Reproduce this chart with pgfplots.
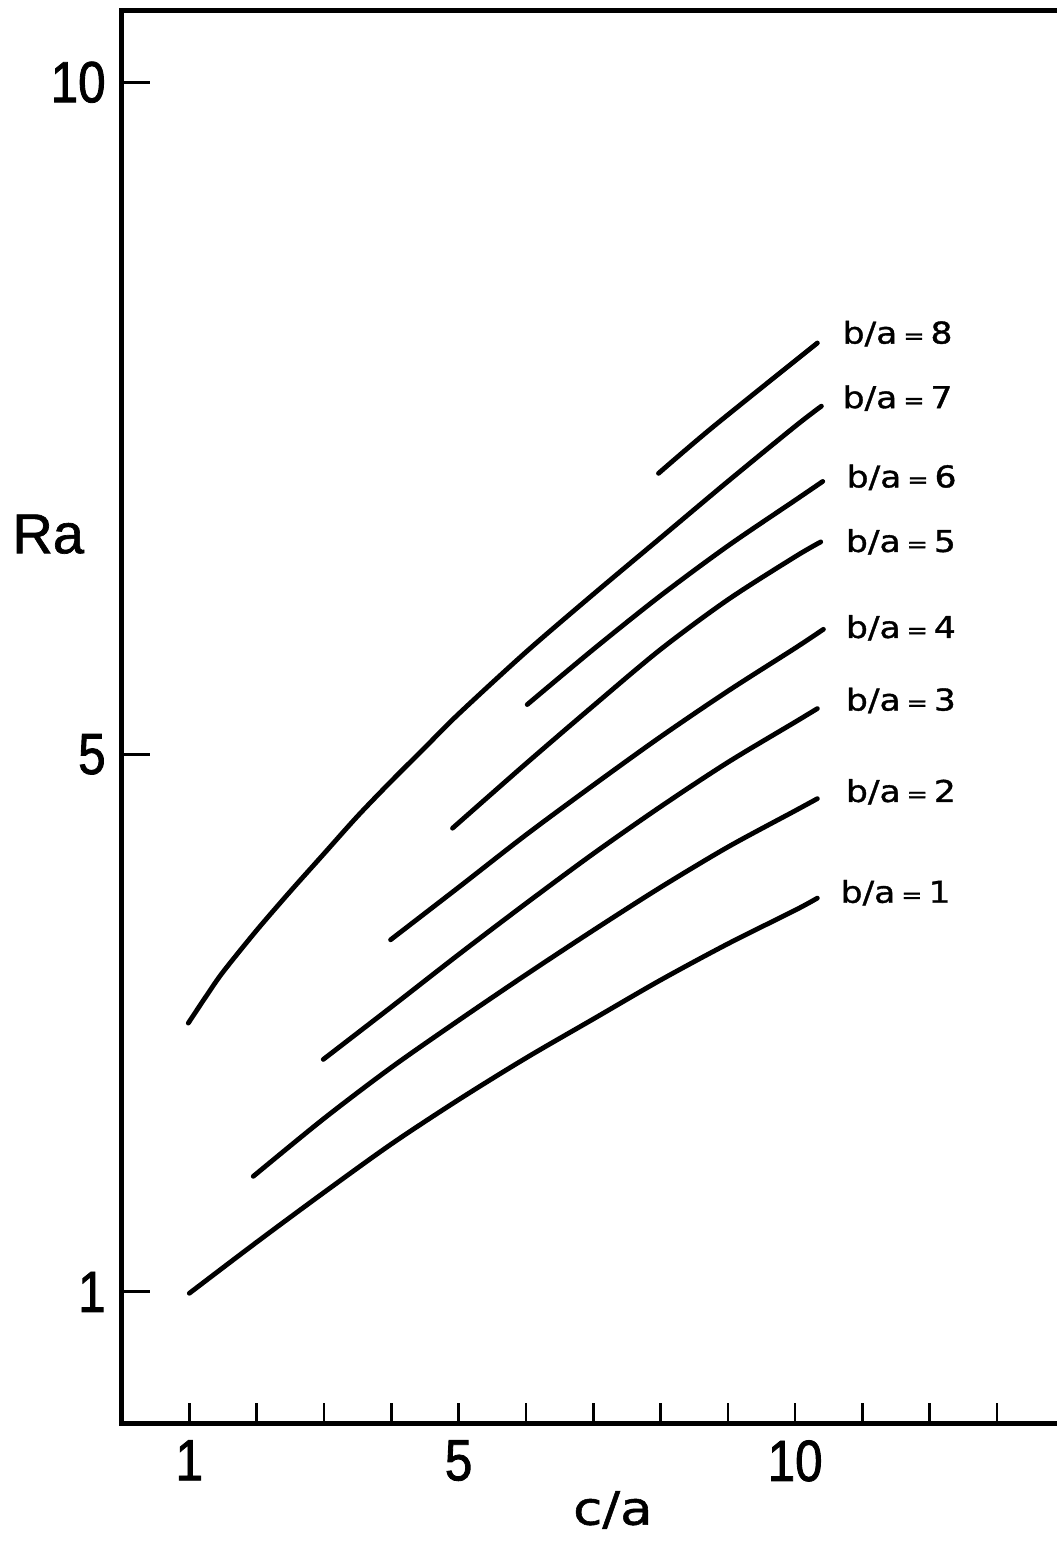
\documentclass[border=0pt]{standalone}
\usepackage{pgfplots}
\pgfplotsset{compat=1.18}
\usepackage{fontspec}
\setmainfont{Liberation Sans}
\newfontfamily\labelfont[FakeBold=1.2]{Liberation Sans}
\newfontfamily\tickfont[FakeStretch=0.85, FakeBold=1.5]{Liberation Sans}
\newfontfamily\curvefont[FakeStretch=1.15, FakeBold=1.2]{DejaVu Sans}
% curve label b/a = n
\newcommand\ba[1]{{\curvefont\fontsize{15}{18}\selectfont b/a\kern3pt{\fontsize{11}{12}\selectfont=}\kern3pt#1}}

\begin{document}
\begin{tikzpicture}
\begin{axis}[
  name=ax,
  scale only axis,
  width=467.5pt, height=706pt,
  xmin=0, xmax=13.89, ymin=0.025, ymax=10.53,
  axis x line*=bottom, axis y line*=left,
  axis line style={line width=2.5pt, line cap=rect},
  tick align=inside,
  xtick={1,...,13},
  xticklabels={1,,,,5,,,,,10,,,},
  ytick={1,5,10},
  major tick length=10pt,
  xtick style={line width=1.3pt, black},
  ytick style={line width=1.5pt, black, /pgfplots/major tick length=14pt},
  /pgf/number format/assume math mode=true,
  ticklabel style={font=\tickfont\fontsize{29}{30}\selectfont, inner sep=0pt},
  xticklabel style={yshift=-8.5pt},
  yticklabel style={xshift=-8pt},
  clip=false,
  cycle list={{black}},
  no markers,
  every axis plot post/.append style={line width=2.4pt, line cap=round, line join=round, smooth, tension=0.5, black},
]
% b/a = 1
\addplot coordinates {(1,0.99) (2,1.37) (3,1.74) (4,2.10) (5,2.43) (6,2.74) (7,3.03) (8,3.32) (9,3.59) (10,3.84) (10.33,3.93)};
% b/a = 2
\addplot coordinates {(1.95,1.86) (3,2.29) (4,2.67) (5,3.02) (6,3.36) (7,3.69) (8,4.01) (9,4.31) (10,4.58) (10.33,4.67)};
% b/a = 3
\addplot coordinates {(2.99,2.73) (4,3.12) (5,3.51) (6,3.89) (7,4.26) (8,4.61) (9,4.94) (10,5.24) (10.33,5.34)};
% b/a = 4
\addplot coordinates {(3.99,3.62) (5,4.01) (6,4.40) (7,4.77) (8,5.13) (9,5.47) (10,5.79) (10.42,5.93)};
% b/a = 5
\addplot coordinates {(4.91,4.45) (6,4.93) (7,5.36) (8,5.78) (9,6.15) (10,6.47) (10.38,6.58)};
% b/a = 6
\addplot coordinates {(6.02,5.37) (7,5.78) (8,6.18) (9,6.55) (10,6.89) (10.41,7.03)};
% b/a = 7
\addplot coordinates {(0.985,3.00) (1.25,3.20) (1.5,3.38) (2,3.69) (2.5,3.98) (3,4.26) (3.5,4.54) (4,4.80) (4.5,5.05) (5,5.30) (6,5.76) (7,6.19) (8,6.61) (9,7.03) (10,7.44) (10.39,7.59)};
% b/a = 8
\addplot coordinates {(7.97,7.09) (8.79,7.44) (10.33,8.06)};

% top frame line
\draw[line width=2.5pt, line cap=rect] (rel axis cs:0,1) -- (rel axis cs:1,1);

\node[anchor=west, inner sep=0pt] at (axis cs:10.70,8.13) {\ba{8}};
\node[anchor=west, inner sep=0pt] at (axis cs:10.70,7.65) {\ba{7}};
\node[anchor=west, inner sep=0pt] at (axis cs:10.76,7.06) {\ba{6}};
\node[anchor=west, inner sep=0pt] at (axis cs:10.75,6.58) {\ba{5}};
\node[anchor=west, inner sep=0pt] at (axis cs:10.75,5.94) {\ba{4}};
\node[anchor=west, inner sep=0pt] at (axis cs:10.75,5.40) {\ba{3}};
\node[anchor=west, inner sep=0pt] at (axis cs:10.75,4.72) {\ba{2}};
\node[anchor=west, inner sep=0pt] at (axis cs:10.67,3.97) {\ba{1}};

\node[anchor=base west, inner sep=0pt] at (axis description cs:-0.1176,0.616) {\labelfont\fontsize{28}{30}\selectfont Ra};
\node[anchor=base, inner sep=0pt] at (axis description cs:0.525,-0.072) {\curvefont\fontsize{23}{26}\selectfont c/a};
\end{axis}
\pgfresetboundingbox
\path ([xshift=-61pt,yshift=-59pt]ax.south west) rectangle ([yshift=5.5pt]ax.north east);
\end{tikzpicture}
\end{document}
